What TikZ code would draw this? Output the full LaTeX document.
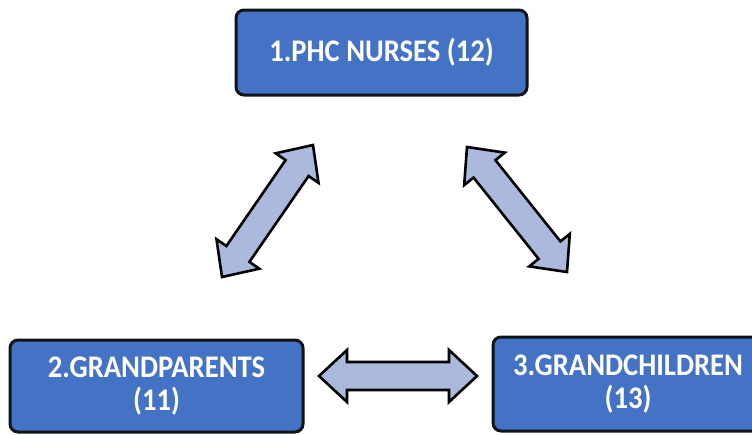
\documentclass[tikz,border=0pt]{standalone}
\usepackage{fontspec}
\setmainfont{Carlito}
\usetikzlibrary{calc}
\definecolor{boxblue}{HTML}{4472C4}
\definecolor{arrowfill}{HTML}{AAB9DC}
\definecolor{edgedark}{HTML}{101418}
\tikzset{
  groupbox/.style={draw=edgedark, line width=3pt, fill=boxblue, rounded corners=8pt,
    text=white, align=center, inner sep=0pt,
    font=\fontsize{28.6}{30}\selectfont\bfseries},
  blockarrow/.style={draw=black, line width=2.6pt, fill=arrowfill, line join=miter}
}
% slightly tall lettering: one line, or two centred lines
\newcommand{\tallone}[1]{\scalebox{1}[1.1]{#1}}
\newcommand{\talltwo}[2]{\raisebox{-3pt}{\scalebox{1}[1.1]{\vbox{\baselineskip=30pt \lineskiplimit=0pt \lineskip=2pt
  \halign{\hfil##\hfil\cr #1\cr #2\cr}}}}}
% double-headed block arrow between two named points
\newcommand{\twowayarrow}[2]{%
  \draw[blockarrow] (#1)
    -- ($(#1)!28pt!(#2)!26pt!90:(#2)$)
    -- ($(#1)!28pt!(#2)!14pt!90:(#2)$)
    -- ($(#2)!28pt!(#1)!14pt!-90:(#1)$)
    -- ($(#2)!28pt!(#1)!26pt!-90:(#1)$)
    -- (#2)
    -- ($(#2)!28pt!(#1)!26pt!90:(#1)$)
    -- ($(#2)!28pt!(#1)!14pt!90:(#1)$)
    -- ($(#1)!28pt!(#2)!14pt!-90:(#2)$)
    -- ($(#1)!28pt!(#2)!26pt!-90:(#2)$)
    -- cycle;}
\begin{document}
\begin{tikzpicture}[x=1pt, y=-1pt]
  \useasboundingbox (0,0) rectangle (752,434);

  \node[groupbox, minimum width=291pt, minimum height=85pt] (nurses) at (381.5,52.5) {\tallone{1.PHC NURSES (12)}};
  \node[groupbox, minimum width=293pt, minimum height=92pt] (parents) at (156.5,386) {\talltwo{2.GRANDPARENTS}{(11)}};
  \node[groupbox, minimum width=270pt, minimum height=94pt] (children) at (628,384) {\talltwo{3.GRANDCHILDREN}{(13)}};

  % arrow end points
  \coordinate (np) at (313,145);
  \coordinate (pn) at (222,277);
  \coordinate (nc) at (467,147);
  \coordinate (cn) at (567,272);
  \coordinate (pc) at (319,376);
  \coordinate (cp) at (477,376);

  \twowayarrow{pn}{np}
  \twowayarrow{nc}{cn}
  \twowayarrow{pc}{cp}
\end{tikzpicture}
\end{document}
